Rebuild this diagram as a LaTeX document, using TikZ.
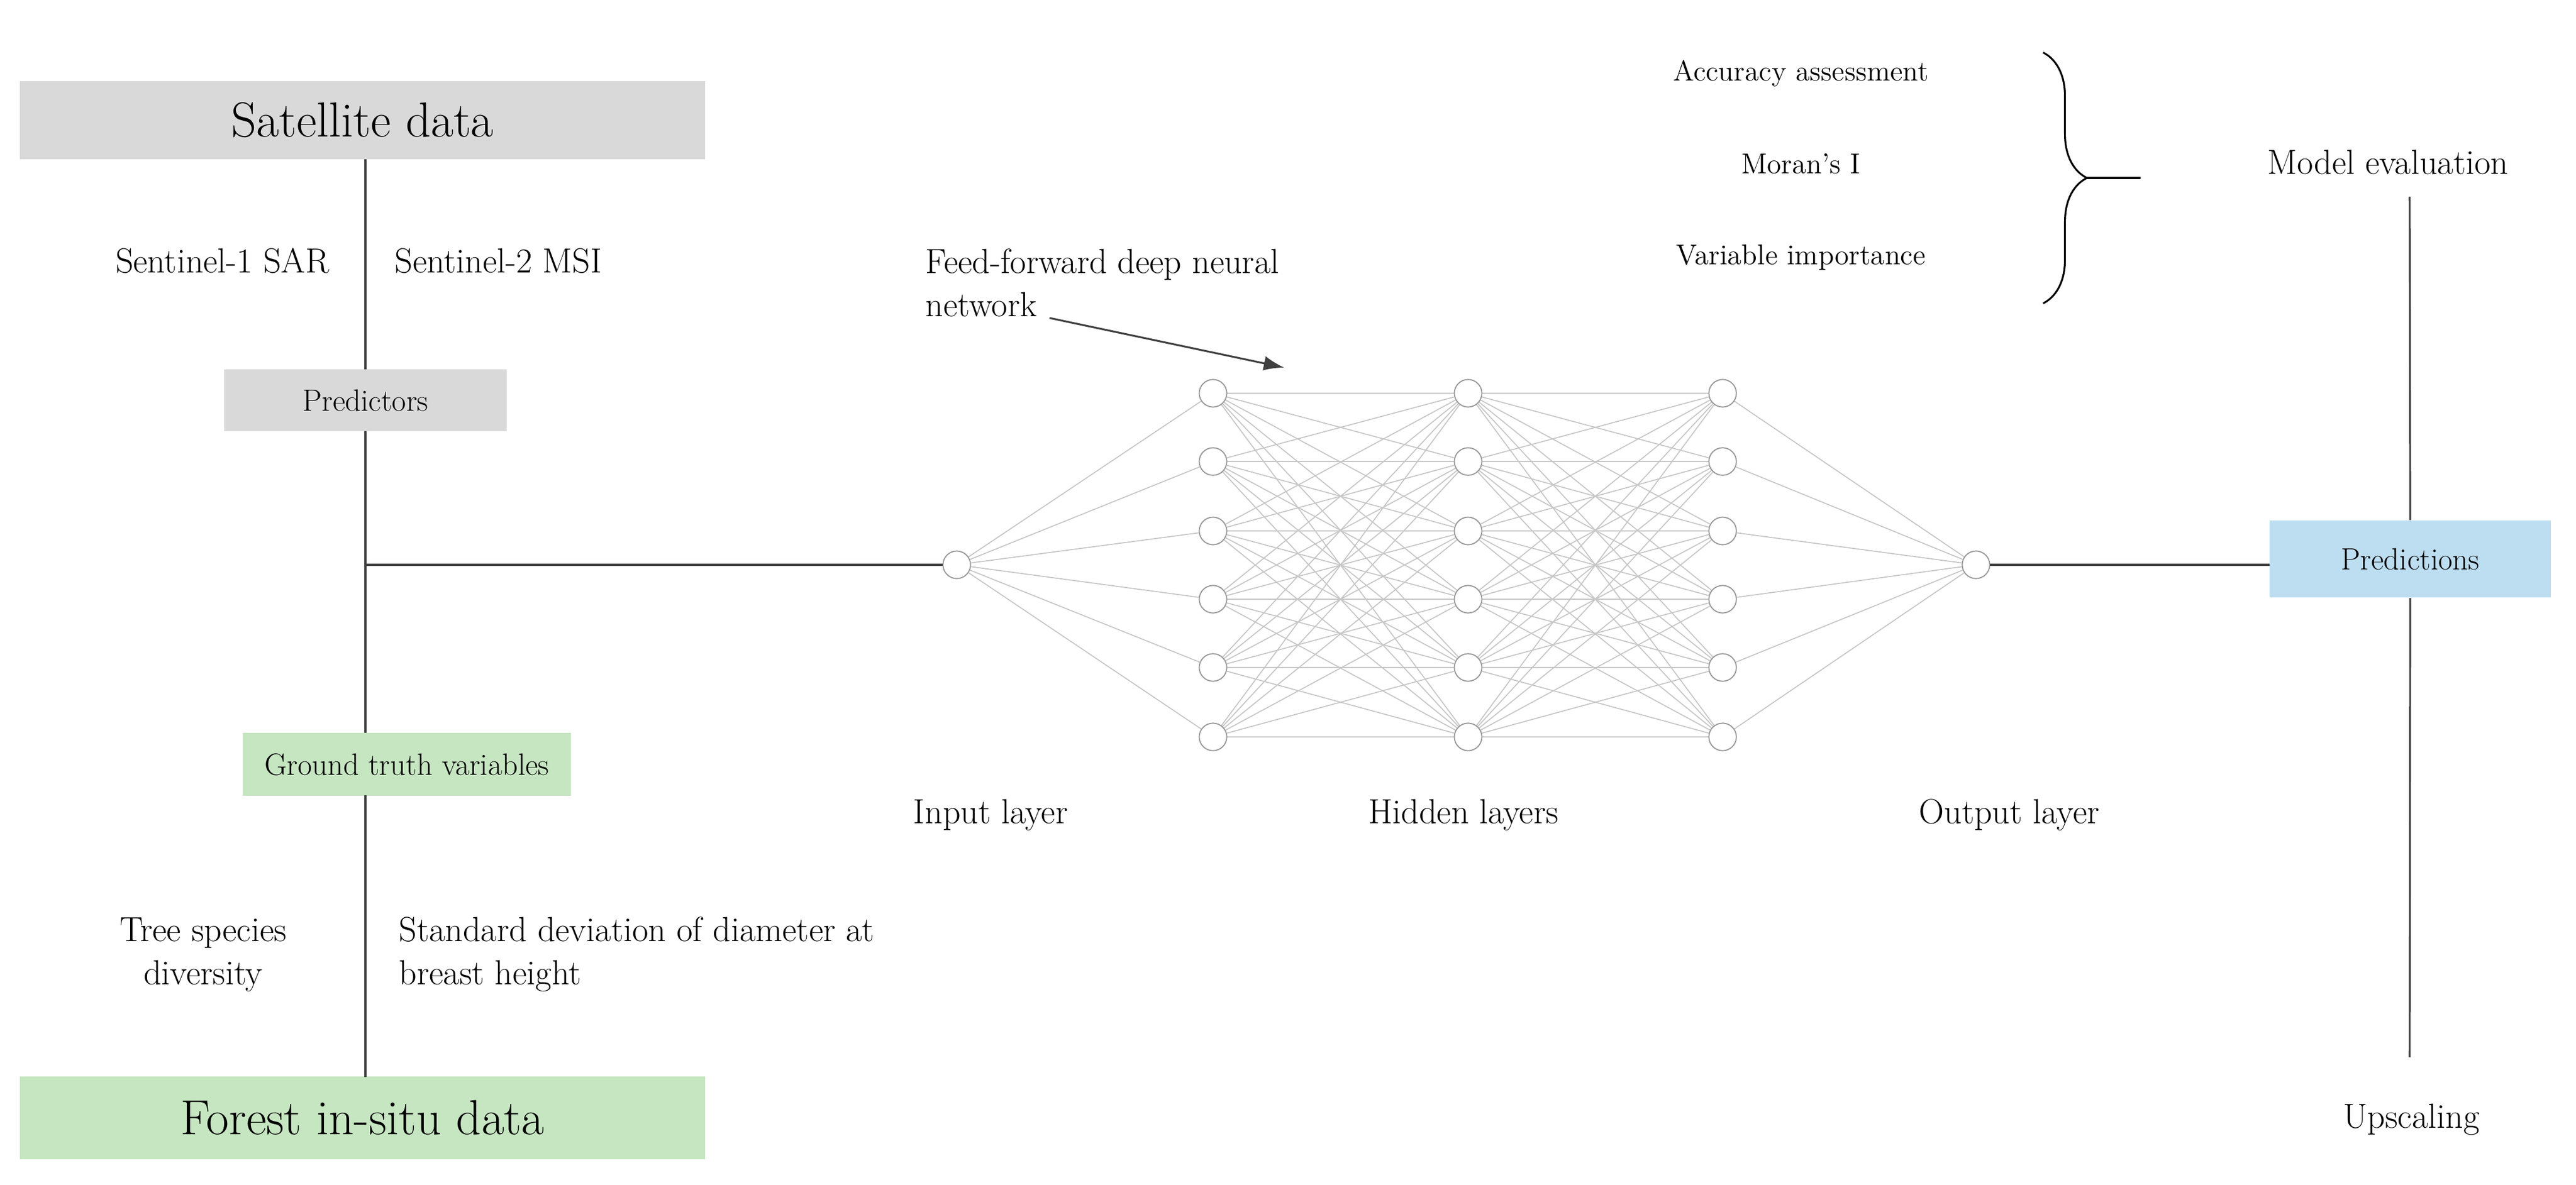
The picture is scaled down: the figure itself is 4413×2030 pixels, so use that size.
\documentclass[tikz,border=0pt]{standalone}
\usetikzlibrary{decorations.pathreplacing,arrows.meta}
\definecolor{boxgray}{HTML}{D9D9D9}
\definecolor{boxgreen}{HTML}{C6E5C1}
\definecolor{boxblue}{HTML}{BDDDF0}
\begin{document}
\begin{tikzpicture}[x=0.01cm,y=-0.01cm,
  lbl/.style={inner sep=0pt,font=\fontsize{17}{21}\selectfont},
  sml/.style={inner sep=0pt,font=\fontsize{14}{17}\selectfont},
  box/.style={inner sep=0pt,anchor=center},
  neuron/.style={circle,draw=gray!80,fill=white,minimum size=0.47cm,inner sep=0pt,line width=0.5pt},
  conn/.style={line width=0.9pt,black!75},
  web/.style={gray!45,line width=0.5pt}]
\useasboundingbox (0,0) rectangle (4413,2030);
% boxes
\node[box,fill=boxgray,minimum width=11.74cm,minimum height=1.33cm,font=\fontsize{24}{28}\selectfont] (sat) at (621,206) {Satellite data};
\node[box,fill=boxgray,minimum width=4.83cm,minimum height=1.05cm,font=\fontsize{15}{18}\selectfont] (pred) at (626,686) {Predictors};
\node[box,fill=boxgreen,minimum width=5.62cm,minimum height=1.07cm,font=\fontsize{15}{18}\selectfont] (gt) at (697,1310) {Ground truth variables};
\node[box,fill=boxgreen,minimum width=11.74cm,minimum height=1.41cm,font=\fontsize{24}{28}\selectfont] (forest) at (621,1916) {Forest in-situ data};
\coordinate (j) at (626,968);
\coordinate (gtt) at (626,1256);
\coordinate (gtb) at (626,1363);
\coordinate (ft) at (626,1846);
\draw[conn] (626,273) -- (pred.north);
\draw[conn] (pred.south) -- (gtt);
\draw[conn] (gtb) -- (ft);
% labels left
\node[lbl] (s1) at (381,447) {Sentinel-1 SAR};
\node[lbl,anchor=west] (s2) at (676,447) {Sentinel-2 MSI};
\node[lbl,align=center] (tsd) at (348,1636) {Tree species\\diversity};
\node[lbl,align=left,anchor=west] (sdd) at (683,1636) {Standard deviation of diameter at\\breast height};
% network
\node[neuron] (in) at (1639,968) {};
\node[neuron] (out) at (3385,968) {};
\foreach \l/\x in {1/2078,2/2515,3/2951}{
  \foreach \i/\y in {1/674,2/791,3/910,4/1027,5/1144,6/1263}{
    \node[neuron] (h\l\i) at (\x,\y) {};
  }}
\foreach \i in {1,...,6}{
  \draw[web] (in) -- (h1\i);
  \draw[web] (h3\i) -- (out);
  \foreach \k in {1,...,6}{
    \draw[web] (h1\i) -- (h2\k);
    \draw[web] (h2\i) -- (h3\k);
  }}
\foreach \l in {1,2,3}{\foreach \i in {1,...,6}{\node[neuron] at (h\l\i) {};}}
\node[neuron] at (in) {};
\node[neuron] at (out) {};
\draw[conn] (j) -- (in);
\node[lbl] (il) at (1697,1397) {Input layer};
\node[lbl] (hl) at (2507,1397) {Hidden layers};
\node[lbl] (ol) at (3442,1397) {Output layer};
\node[lbl,align=left,anchor=west] (ff) at (1585,485) {Feed-forward deep neural\\network};
\coordinate (fa) at (1798,545);
\coordinate (fb) at (2200,630);
\draw[conn,-{Latex[length=0.35cm,width=0.25cm]}] (fa) -- (fb);
% right side
\node[box,fill=boxblue,minimum width=4.81cm,minimum height=1.32cm,font=\fontsize{15}{18}\selectfont] (preds) at (4129,958) {Predictions};
\node[lbl] (me) at (4091,278) {Model evaluation};
\node[lbl] (up) at (4131,1919) {Upscaling};
\coordinate (rt) at (4128,337);
\coordinate (rb) at (4128,1812);
\draw[conn] (rt) -- (preds.north);
\draw[conn] (preds.south) -- (rb);
\draw[conn] (out) -- (out -| preds.west);
% brace
\node[sml] (aa) at (3085,126) {Accuracy assessment};
\node[sml] (mi) at (3085,281) {Moran's I};
\node[sml] (vi) at (3085,441) {Variable importance};
\coordinate (bt) at (3500,90);
\coordinate (bb) at (3500,520);
\coordinate (btip) at (3575,305);
\coordinate (bend) at (3667,305);
\draw[line width=0.9pt,decorate,decoration={brace,amplitude=0.75cm,raise=0pt}] (bt) -- (bb);
\draw[line width=0.9pt] (btip) -- (bend);
\end{tikzpicture}
\end{document}
